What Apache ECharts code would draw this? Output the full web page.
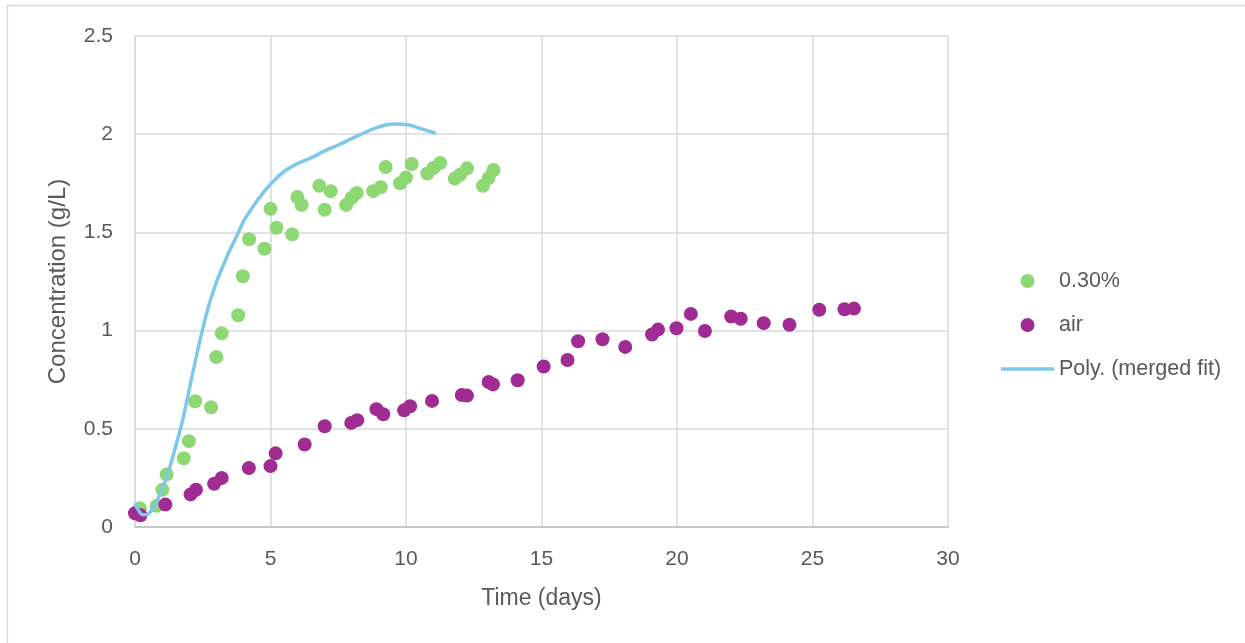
<!DOCTYPE html>
<html>
<head>
<meta charset="utf-8">
<script src="https://cdn.jsdelivr.net/npm/echarts@6/dist/echarts.min.js"></script>
<style>
html,body{margin:0;padding:0;background:#fff;}
#chart{width:1245px;height:643px;}
</style>
</head>
<body>
<div id="chart"></div>
<script>
// 0.30% series: [time (days), concentration (g/L)]
const pct030 = [
  [0.18,0.095],[0.8,0.108],[1.01,0.19],[1.17,0.268],[1.8,0.35],[1.99,0.437],
  [2.22,0.64],[2.81,0.61],[3.0,0.865],[3.2,0.986],[3.81,1.078],[3.98,1.277],
  [4.21,1.465],[4.78,1.417],[5.0,1.62],[5.22,1.524],[5.8,1.49],[5.99,1.68],
  [6.15,1.64],[6.8,1.737],[7.0,1.615],[7.22,1.71],[7.79,1.64],[7.99,1.675],
  [8.18,1.70],[8.79,1.71],[9.07,1.73],[9.25,1.833],[9.78,1.75],[10.0,1.78],
  [10.21,1.848],[10.79,1.80],[11.01,1.828],[11.26,1.853],[11.8,1.774],
  [12.0,1.794],[12.25,1.826],[12.84,1.737],[13.05,1.777],[13.23,1.818]
];
// air series
const air = [
  [0.0,0.07],[0.2,0.06],[1.12,0.114],[2.05,0.166],[2.25,0.19],[2.92,0.22],
  [3.2,0.25],[4.2,0.30],[5.0,0.31],[5.19,0.375],[6.26,0.42],[7.0,0.513],
  [7.98,0.53],[8.2,0.544],[8.91,0.60],[9.16,0.574],[9.93,0.594],[10.15,0.615],
  [10.96,0.642],[12.06,0.672],[12.25,0.669],[13.05,0.738],[13.21,0.726],
  [14.12,0.747],[15.08,0.817],[15.96,0.85],[16.35,0.946],[17.25,0.956],
  [18.09,0.917],[19.08,0.98],[19.3,1.005],[19.98,1.012],[20.51,1.085],
  [21.03,0.998],[22.0,1.072],[22.35,1.06],[23.2,1.038],[24.15,1.03],
  [25.25,1.106],[26.18,1.109],[26.53,1.112]
];
// polynomial trendline
const mergedFit = [
  [0,0.12],[0.15,0.08],[0.3,0.062],[0.5,0.068],[0.7,0.105],[1.0,0.19],
  [1.25,0.29],[1.5,0.41],[1.75,0.54],[2.0,0.70],[2.25,0.86],[2.5,1.01],
  [2.75,1.14],[3.0,1.245],[3.25,1.33],[3.5,1.41],[3.75,1.48],[4.0,1.555],
  [4.25,1.61],[4.5,1.66],[4.75,1.705],[5.0,1.745],[5.5,1.81],[6.0,1.85],
  [6.5,1.88],[7.0,1.915],[7.5,1.945],[8.0,1.978],[8.5,2.01],[9.0,2.037],
  [9.5,2.052],[10.0,2.05],[10.5,2.03],[11.1,2.005]
];
const seriesNames = ['0.30%','air','Poly. (merged fit)'];
const xTicks = {min:0,max:30,interval:5};
const yTicks = {min:0,max:2.5,interval:0.5};

const FONT = '"Liberation Sans", Arial, sans-serif';
const chart = echarts.init(document.getElementById('chart'));
chart.setOption({
  backgroundColor:'#ffffff',
  animation:false,
  textStyle:{fontFamily:FONT},
  graphic:[
    {type:'line',shape:{x1:7,y1:5.5,x2:1245,y2:5.5},style:{stroke:'#d9d9d9',lineWidth:1.5},silent:true},
    {type:'line',shape:{x1:7.5,y1:5,x2:7.5,y2:643},style:{stroke:'#d9d9d9',lineWidth:1.5},silent:true}
  ],
  grid:{left:135,right:297,top:36,bottom:116,containLabel:false},
  legend:{
    orient:'vertical',left:1001,top:270,padding:0,
    itemWidth:53,itemHeight:14,itemGap:22,
    textStyle:{fontSize:21.5,color:'#595959',fontFamily:FONT,lineHeight:22},
    data:[
      {name:seriesNames[0],icon:'circle'},
      {name:seriesNames[1],icon:'circle'},
      {name:seriesNames[2],icon:'path://M0,0H53V3.5H0Z'}
    ]
  },
  xAxis:{
    type:'value',min:xTicks.min,max:xTicks.max,interval:xTicks.interval,
    name:'Time (days)',nameLocation:'middle',nameGap:60,
    nameTextStyle:{fontSize:23,color:'#595959',fontFamily:FONT},
    axisLine:{show:true,onZero:false,lineStyle:{color:'#bfbfbf',width:1.5}},
    axisTick:{show:false},
    axisLabel:{fontSize:21,color:'#595959',margin:22,fontFamily:FONT},
    splitLine:{show:true,lineStyle:{color:'#d9d9d9',width:1.5}}
  },
  yAxis:{
    type:'value',min:yTicks.min,max:yTicks.max,interval:yTicks.interval,
    name:'Concentration (g/L)',nameLocation:'middle',nameGap:65,
    nameTextStyle:{fontSize:24,color:'#595959',fontFamily:FONT},
    axisLine:{show:true,lineStyle:{color:'#d9d9d9',width:1.5}},
    axisTick:{show:false},
    axisLabel:{fontSize:21,color:'#595959',margin:22,fontFamily:FONT},
    splitLine:{show:true,lineStyle:{color:'#d9d9d9',width:1.5}}
  },
  series:[
    {name:seriesNames[0],type:'scatter',data:pct030,symbol:'circle',symbolSize:14,
     itemStyle:{color:'#8ED873',opacity:1},z:2},
    {name:seriesNames[1],type:'scatter',data:air,symbol:'circle',symbolSize:14,
     itemStyle:{color:'#A02B93',opacity:1},z:3},
    {name:seriesNames[2],type:'line',data:mergedFit,smooth:0.4,symbol:'none',showSymbol:false,
     lineStyle:{color:'#7DC8EA',width:3.5},itemStyle:{color:'#7DC8EA'},z:4}
  ]
});
</script>
</body>
</html>
